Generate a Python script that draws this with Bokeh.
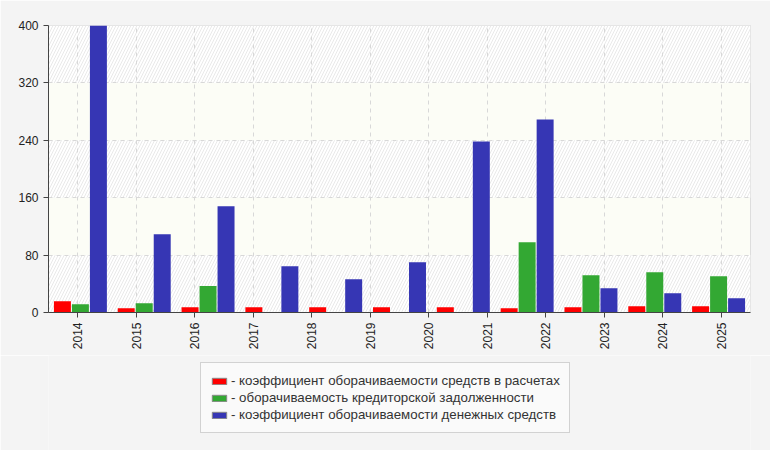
import math
from bokeh.plotting import figure
from bokeh.layouts import column
from bokeh.models import (FactorRange, Range1d, FixedTicker, ColumnDataSource,
                          BoxAnnotation, Legend, LegendItem)
from bokeh.transform import dodge
from bokeh.embed import file_html
from bokeh.resources import INLINE

# ---- data ----
years = ["2014", "2015", "2016", "2017", "2018", "2019", "2020",
         "2021", "2022", "2023", "2024", "2025"]
# the reference draws 11 bar groups spread over the full plot width
bar_groups = years[:11]
receivables_turnover = [15.8, 6.0, 7.4, 7.4, 7.4, 7.4, 7.4, 6.0, 7.4, 8.8, 8.8]
payables_turnover = [11.6, 13.0, 37.0, 0, 0, 0, 0, 98.0, 52.0, 56.0, 50.6]
cash_turnover = [400, 109, 148, 64.5, 46.4, 70.0, 238.5, 269.0, 33.9, 26.9, 20.0]
series_names = ["- коэффициент оборачиваемости средств в расчетах",
                "- оборачиваемость кредиторской задолженности",
                "- коэффициент оборачиваемости денежных средств"]
series_colors = ["#ff0000", "#33a833", "#3636b4"]
y_ticks = [0, 80, 160, 240, 320, 400]

FONT = "Liberation Sans"
BG = "#f4f4f4"

p = figure(width=770, height=355, x_range=FactorRange(factors=years),
           y_range=Range1d(0, 400), output_backend="svg", toolbar_location=None,
           min_border_left=48, min_border_right=20, min_border_top=25,
           min_border_bottom=43)
p.background_fill_color = "#fcfdf6"
p.border_fill_color = BG
p.outline_line_color = "#dddddd"

p.extra_x_ranges = {"bars": FactorRange(factors=bar_groups, range_padding=0)}

src = ColumnDataSource(dict(grp=bar_groups, a=receivables_turnover,
                            b=payables_turnover, c=cash_turnover))

# hatched bands (drawn beneath the grid)
for lo, hi in [(0, 80), (160, 240), (320, 400)]:
    p.add_layout(BoxAnnotation(bottom=lo, top=hi, fill_color="white", fill_alpha=1,
                               hatch_pattern="/", hatch_color="#e9e9e9",
                               hatch_scale=6, hatch_weight=1, line_alpha=0,
                               level="image"))

bw = 0.266
off = 0.282
rng = p.extra_x_ranges["bars"]
for col, o, color in zip(["a", "b", "c"], [-off, 0, off], series_colors):
    p.vbar(x=dodge("grp", o, range=rng), top=col, width=bw, source=src,
           x_range_name="bars", fill_color=color, line_color=None)

# axes
p.xaxis.major_label_orientation = math.pi / 2
p.xaxis.major_label_text_font = FONT
p.xaxis.major_label_text_font_size = "12px"
p.xaxis.major_label_text_color = "#222222"
p.xaxis.axis_line_color = "#444444"
p.xaxis.major_tick_line_color = "#444444"
p.xaxis.major_tick_out = 5
p.xaxis.major_tick_in = 0
p.xaxis.minor_tick_line_color = None

p.yaxis.ticker = FixedTicker(ticks=y_ticks)
p.yaxis.major_label_text_font = FONT
p.yaxis.major_label_text_font_size = "12px"
p.yaxis.major_label_text_color = "#222222"
p.yaxis.axis_line_color = "#444444"
p.yaxis.major_tick_line_color = "#444444"
p.yaxis.major_tick_out = 5
p.yaxis.major_tick_in = 0
p.yaxis.minor_tick_line_color = None

p.xgrid.grid_line_color = "#d8d8d8"
p.xgrid.grid_line_dash = "4 4"
p.ygrid.grid_line_color = "#d8d8d8"
p.ygrid.grid_line_dash = "4 4"

# ---- legend panel below the chart ----
lf = figure(width=770, height=95, x_range=Range1d(0, 1), y_range=Range1d(0, 1),
            output_backend="svg", toolbar_location=None,
            min_border_left=0, min_border_right=0, min_border_top=0,
            min_border_bottom=0)
lf.axis.visible = False
lf.grid.visible = False
lf.background_fill_color = BG
lf.border_fill_color = BG
lf.outline_line_color = None

items = []
for name, color in zip(series_names, series_colors):
    # swatch-only renderer; its single point lies outside the visible range
    r = lf.vbar(x=[-5], top=[-5], bottom=[-6], width=0.1, fill_color=color,
                line_color="#888888", line_width=1)
    items.append(LegendItem(label=name, renderers=[r]))

legend = Legend(items=items, location=(152, 17), orientation="vertical",
                label_text_font=FONT, label_text_font_size="13.3px",
                label_text_color="#333333", glyph_width=18, glyph_height=8,
                label_height=17, spacing=0, padding=9, margin=0,
                label_standoff=3, label_text_baseline="middle",
                border_line_color="#aaaaaa", background_fill_color="#fafafa",
                background_fill_alpha=1)
lf.add_layout(legend, "center")

layout = column(p, lf, spacing=0)
open("out.html", "w").write(file_html(layout, INLINE))
